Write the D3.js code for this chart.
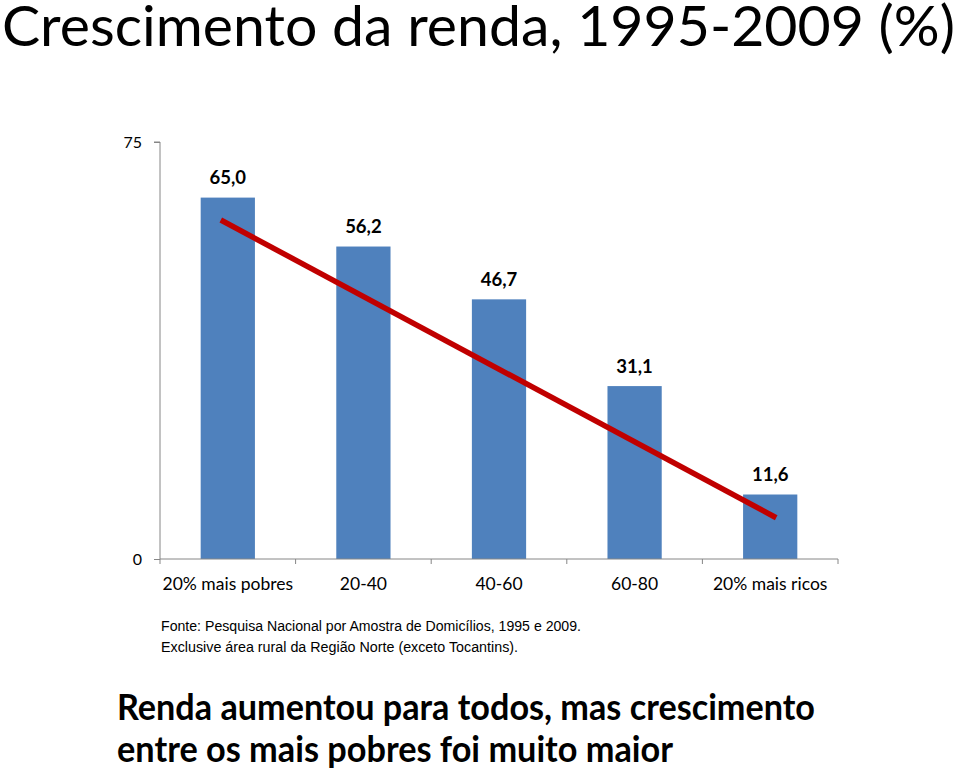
<!DOCTYPE html>
<html><head><meta charset="utf-8">
<script src="https://cdn.jsdelivr.net/npm/d3@7"></script>
<style>body{margin:0;background:#fff}svg{display:block}</style>
</head><body>
<script>
const categories = ["20% mais pobres","20-40","40-60","60-80","20% mais ricos"];
const values = [65.0, 56.2, 46.7, 31.1, 11.6];
const valueLabels = ["65,0","56,2","46,7","31,1","11,6"];
const trendValues = [60.3, 8.0];
const yTicks = [0, 75];
const titleText = "Crescimento da renda, 1995-2009 (%)";
const sourceLines = ["Fonte: Pesquisa Nacional por Amostra de Domicílios, 1995 e 2009.",
                     "Exclusive área rural da Região Norte (exceto Tocantins)."];
const takeaway = ["Renda aumentou para todos, mas crescimento",
                  "entre os mais pobres foi muito maior"];

const W = 960, H = 769;
const svg = d3.select("body").append("svg").attr("width", W).attr("height", H);
const font = "Lato, 'Open Sans', sans-serif";

svg.append("text").attr("x", 2).attr("y", 46)
  .attr("font-family", font).attr("font-size", 56)
  .attr("textLength", 953).attr("lengthAdjust", "spacingAndGlyphs")
  .attr("fill", "#000").text(titleText);

const X0 = 160, X1 = 838;
const x = d3.scaleBand().domain(categories).range([X0, X1])
  .paddingInner(0.6).paddingOuter(0.3);
const y = d3.scaleLinear().domain([0, 75]).range([559, 142]);
const axisColor = "#868686";

// y axis
const ya = svg.append("g").attr("transform", `translate(${X0},0)`)
  .call(d3.axisLeft(y).tickValues(yTicks).tickSize(6).tickPadding(12).tickFormat(d3.format("d")));
ya.select(".domain").attr("stroke", axisColor).attr("d", `M-6,${y(75)}H0V${y(0)}`);
ya.selectAll(".tick line").attr("stroke", axisColor);
ya.selectAll(".tick text").attr("font-family", font).attr("font-size", 16).attr("fill", "#000");

// bars
svg.append("g").selectAll("rect").data(values).join("rect")
  .attr("x", (d,i) => x(categories[i])).attr("width", x.bandwidth())
  .attr("y", d => y(d)).attr("height", d => y(0) - y(d))
  .attr("fill", "#4F81BD");

// x axis
const xa = svg.append("g").attr("transform", `translate(0,${y(0)})`);
xa.append("line").attr("x1", X0).attr("x2", X1).attr("stroke", axisColor).attr("stroke-width", 1);
const bounds = categories.map((c,i) => X0 + i * x.step()).concat([X1]);
xa.selectAll("line.t").data(bounds).join("line").attr("class","t")
  .attr("x1", d=>d).attr("x2", d=>d).attr("y1", 0).attr("y2", 5).attr("stroke", axisColor);
xa.selectAll("text").data(categories).join("text")
  .attr("x", d => x(d) + x.bandwidth()/2).attr("y", 31)
  .attr("text-anchor", "middle").attr("font-family", font).attr("font-size", 17.5)
  .attr("fill", "#000").text(d => d);

// value labels
svg.append("g").selectAll("text").data(values).join("text")
  .attr("x", (d,i) => x(categories[i]) + x.bandwidth()/2).attr("y", d => y(d) - 13.5)
  .attr("text-anchor", "middle").attr("font-family", font).attr("font-weight", "bold")
  .attr("font-size", 18.5).attr("fill", "#000").text((d,i) => valueLabels[i]);

// trend line
const tx = [categories[0], categories[categories.length-1]];
svg.append("line")
  .attr("x1", x(tx[0]) + x.bandwidth()/2 - 7).attr("y1", y(trendValues[0]) - 3.7)
  .attr("x2", x(tx[1]) + x.bandwidth()/2 + 6).attr("y2", y(trendValues[1]) + 3.2)
  .attr("stroke", "#C00000").attr("stroke-width", 5.5).attr("stroke-linecap", "butt");

// source
const srcW = [420, 357];
svg.append("g").selectAll("text").data(sourceLines).join("text")
  .attr("x", 161).attr("y", (d,i) => 631 + i*21)
  .attr("font-family", "'Liberation Sans', Arial, sans-serif").attr("font-size", 15.5)
  .attr("textLength", (d,i) => srcW[i]).attr("lengthAdjust", "spacingAndGlyphs")
  .attr("fill", "#000").text(d => d);

// takeaway
const tkW = [698, 556];
svg.append("g").selectAll("text").data(takeaway).join("text")
  .attr("x", 117).attr("y", (d,i) => 720 + i*42)
  .attr("font-family", font).attr("font-weight", "bold").attr("font-size", 36)
  .attr("textLength", (d,i) => tkW[i]).attr("lengthAdjust", "spacingAndGlyphs")
  .attr("fill", "#000").text(d => d);
</script>
</body></html>
